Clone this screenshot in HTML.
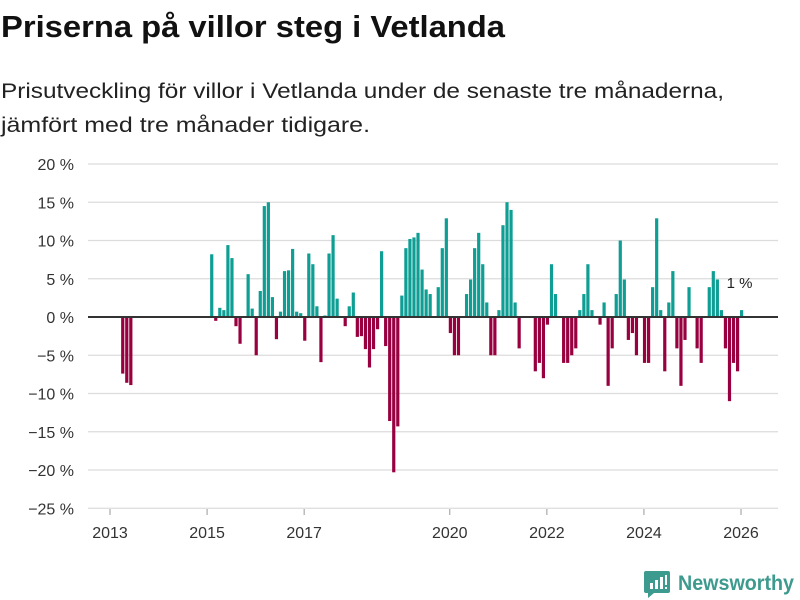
<!DOCTYPE html>
<html><head><meta charset="utf-8"><style>
body{margin:0;width:800px;height:600px;background:#fff;font-family:"Liberation Sans",sans-serif;overflow:hidden;position:relative}
svg{position:absolute;left:0;top:0}
</style></head><body>
<svg width="800" height="160">
<text x="1" y="37" font-size="31" font-weight="bold" fill="#111" textLength="504" lengthAdjust="spacingAndGlyphs">Priserna på villor steg i Vetlanda</text>
<text x="1" y="98" font-size="21" fill="#222" textLength="723" lengthAdjust="spacingAndGlyphs">Prisutveckling för villor i Vetlanda under de senaste tre månaderna,</text>
<text x="1" y="132" font-size="21" fill="#222" textLength="369" lengthAdjust="spacingAndGlyphs">jämfört med tre månader tidigare.</text>
</svg>
<svg id="chart" width="800" height="600"></svg>
<script>
const yTicks=[20,15,10,5,0,-5,-10,-15,-20,-25];
const yearLabels=["2013","2015","2017","2020","2022","2024","2026"];
const yearMonths=[0,24,48,84,108,132,156];
const changeValues=[null,null,null,-7.4,-8.6,-8.9,null,null,null,null,null,null,null,null,null,null,null,null,null,null,null,null,null,null,null,
8.2,-0.5,1.2,0.9,9.4,7.7,-1.2,-3.5,null,5.6,1.1,-5.0,3.4,14.5,15.0,2.6,-2.9,0.7,6.0,6.1,8.9,0.7,0.5,-3.1,8.3,6.9,1.4,-5.9,0.2,8.3,10.7,2.4,null,-1.2,1.4,3.2,-2.6,-2.5,-4.2,-6.6,-4.2,-1.6,8.6,-3.8,-13.6,-20.3,-14.3,2.8,9.0,10.2,10.4,11.0,6.2,3.6,3.0,null,3.9,9.0,12.9,-2.1,-5,-5,null,3.0,4.9,9.0,11.0,6.9,1.9,-5,-5,0.9,12.0,15.0,14.0,1.9,-4.1,null,null,null,-7.1,-6.0,-8.0,-1.0,6.9,3.0,null,-6,-6,-5,-4.1,0.9,3.0,6.9,0.9,null,-1.0,1.9,-9.0,-4.1,3.0,10.0,4.9,-3.0,-2.1,-5.0,null,-6,-6,3.9,12.9,0.9,-7.1,1.9,6.0,-4.1,-9.0,-3.0,3.9,null,-4.1,-6.0,null,3.9,6.0,4.9,0.9,-4.1,-11.0,-6.0,-7.1,0.9];
const lastLabel="1 %";

const NS="http://www.w3.org/2000/svg";
const svg=document.getElementById('chart');
const y=v=>317-v*7.65;
const x=m=>110+m*4.045;
function mk(t,a){const e=document.createElementNS(NS,t);for(const k in a)e.setAttribute(k,a[k]);svg.appendChild(e);return e;}
yTicks.forEach(t=>{
  if(t!==0){const g=mk('line',{x1:88,x2:778,y1:y(t),y2:y(t),stroke:'#dcdcdc','stroke-width':1.3});
  
  }
  const l=mk('text',{x:74,y:y(t)+6,'text-anchor':'end','font-size':16,fill:'#333','font-family':'Liberation Sans, sans-serif'});
  l.textContent=(t<0?'\u2212'+(-t):t)+' %';
  
  
});
yearLabels.forEach((lab,i)=>{
  const tk=mk('line',{x1:x(yearMonths[i]),x2:x(yearMonths[i]),y1:509,y2:515,stroke:'#999','stroke-width':1});
  
  
  const t=mk('text',{x:x(yearMonths[i]),y:538,'text-anchor':'middle','font-size':16,fill:'#333'});
  t.textContent=lab;
  
  
});
changeValues.forEach((v,m)=>{
  if(v===null)return;
  const top=Math.min(y(v),y(0)),h=Math.abs(y(v)-y(0));
  const r=mk('rect',{x:x(m)-1,y:top,width:3.2,height:h,fill:v>=0?'#0e9e94':'#98003f'});
  
  
});
const z=mk('line',{x1:88,x2:778,y1:y(0),y2:y(0),stroke:'#333','stroke-width':2});


const last=changeValues.length-1;
const ll=mk('text',{x:x(last)-1.5,y:y(changeValues[last])-22,'text-anchor':'middle','font-size':15,fill:'#222'});
ll.textContent=lastLabel;


</script>
<svg width="800" height="600" style="pointer-events:none">
<path d="M646 571h22q2 0 2 2v18q0 2-2 2h-14l-6 5v-5h-2q-2 0-2-2v-18q0-2 2-2z" fill="#3d9a8e"/>
<rect x="650" y="583" width="3" height="6" fill="#fff"/><rect x="655" y="580" width="3" height="9" fill="#fff"/><rect x="660" y="577" width="3" height="12" fill="#fff"/><rect x="665" y="575" width="2" height="10" fill="#fff"/><rect x="665" y="587" width="2" height="2" fill="#fff"/>
<text x="678" y="590" font-size="21" font-weight="bold" fill="#3d9a8e" font-family="Liberation Sans, sans-serif" textLength="116" lengthAdjust="spacingAndGlyphs">Newsworthy</text>
</svg>
</body></html>
